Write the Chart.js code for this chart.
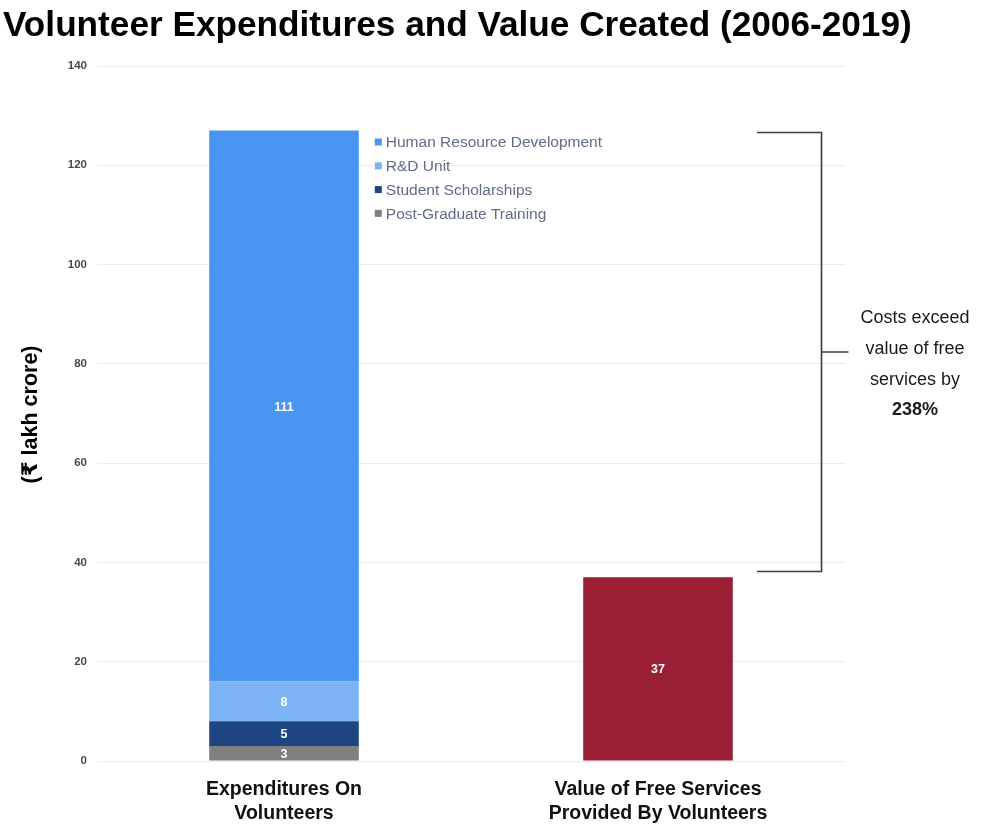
<!DOCTYPE html>
<html>
<head>
<meta charset="utf-8">
<title>Volunteer Expenditures and Value Created (2006-2019)</title>
<script src="https://cdn.jsdelivr.net/npm/chart.js@4/dist/chart.umd.min.js"></script>
<style>
  html, body { margin: 0; padding: 0; background: #ffffff; }
  #wrap { width: 997px; height: 825px; }
</style>
</head>
<body>
<div id="wrap"><canvas id="chart" width="997" height="825"></canvas></div>
<script>
// Categories on the x axis (each label split over two lines)
const categories = [
  ['Expenditures On', 'Volunteers'],
  ['Value of Free Services', 'Provided By Volunteers']
];

// Expenditure components (₹ lakh crore), stacked bottom to top
const postGraduateTraining = [3, null];
const studentScholarships = [5, null];
const rdUnit = [8, null];
const humanResourceDevelopment = [111, null];

// Value of free services provided by volunteers (₹ lakh crore)
const freeServicesValue = [null, 37];

// Y axis ticks
const yTicks = [0, 20, 40, 60, 80, 100, 120, 140];

const chartTitle = 'Volunteer Expenditures and Value Created (2006-2019)';
const yAxisTitle = '(₹ lakh crore)';
const noteLines = ['Costs exceed', 'value of free', 'services by'];
const notePercent = '238%';

const FONT = '"Liberation Sans", Arial, "DejaVu Sans", sans-serif';

const datasets = [
  { label: 'Post-Graduate Training', data: postGraduateTraining, backgroundColor: '#7f7f7f', legend: true },
  { label: 'Student Scholarships', data: studentScholarships, backgroundColor: '#1d4580', legend: true },
  { label: 'R&D Unit', data: rdUnit, backgroundColor: '#7cb4f6', legend: true },
  { label: 'Human Resource Development', data: humanResourceDevelopment, backgroundColor: '#4a95f1', legend: true },
  { label: 'Value of Free Services', data: freeServicesValue, backgroundColor: '#9a1f35', legend: false }
];

// Draws the title, axis title, in-bar values, the legend and the bracket note
const overlay = {
  id: 'overlay',
  afterDraw(chart) {
    const ctx = chart.ctx;
    const area = chart.chartArea;
    const y = chart.scales.y;

    ctx.save();

    // Title
    ctx.fillStyle = '#000000';
    ctx.font = 'bold 35.2px ' + FONT;
    ctx.textAlign = 'left';
    ctx.textBaseline = 'alphabetic';
    ctx.fillText(chartTitle, 3, 36);

    // Y axis title, rotated
    ctx.save();
    ctx.translate(31, (area.top + area.bottom) / 2 + 1);
    ctx.rotate(-Math.PI / 2);
    ctx.font = 'bold 21.5px ' + FONT;
    ctx.textAlign = 'center';
    ctx.textBaseline = 'middle';
    ctx.fillStyle = '#000000';
    ctx.fillText(yAxisTitle, 0, 0);
    ctx.restore();

    // Values inside the bar segments
    ctx.font = 'bold 12.5px ' + FONT;
    ctx.fillStyle = '#ffffff';
    ctx.textAlign = 'center';
    ctx.textBaseline = 'middle';
    chart.data.datasets.forEach((ds, di) => {
      const meta = chart.getDatasetMeta(di);
      meta.data.forEach((bar, i) => {
        const v = ds.data[i];
        if (v === null || v === undefined) return;
        const mid = (bar.y + bar.base) / 2;
        ctx.fillText(String(v), bar.x, mid + 1);
      });
    });

    // Legend, listed top to bottom in the reverse of stacking order
    const legendItems = chart.data.datasets.filter(d => d.legend).slice().reverse();
    const firstBar = chart.getDatasetMeta(0).data[0];
    const lx = firstBar.x + firstBar.width / 2 + 16;
    let ly = 142;
    ctx.font = '15.5px ' + FONT;
    ctx.textAlign = 'left';
    legendItems.forEach(item => {
      ctx.fillStyle = item.backgroundColor;
      ctx.fillRect(lx, ly - 3.5, 7, 7);
      ctx.fillStyle = '#616b8a';
      ctx.fillText(item.label, lx + 11, ly + 1);
      ly += 23.8;
    });

    // Bracket comparing the two bar heights
    const total = postGraduateTraining[0] + studentScholarships[0] + rdUnit[0] + humanResourceDevelopment[0];
    const topY = Math.round(y.getPixelForValue(total)) + 1.5;
    const botY = Math.round(y.getPixelForValue(freeServicesValue[1])) - 5.5;
    const bx0 = 757;
    const bx1 = 821.5;
    const midY = (topY + botY) / 2;
    ctx.strokeStyle = '#3c3c3c';
    ctx.lineWidth = 1.6;
    ctx.beginPath();
    ctx.moveTo(bx0, topY);
    ctx.lineTo(bx1, topY);
    ctx.lineTo(bx1, botY);
    ctx.lineTo(bx0, botY);
    ctx.moveTo(bx1, midY);
    ctx.lineTo(bx1 + 27, midY);
    ctx.stroke();

    // Bracket note
    ctx.fillStyle = '#1a1a1a';
    ctx.textAlign = 'center';
    ctx.textBaseline = 'middle';
    ctx.font = '18px ' + FONT;
    const nx = 915;
    let ny = 318;
    noteLines.forEach(line => {
      ctx.fillText(line, nx, ny);
      ny += 31;
    });
    ctx.font = 'bold 18px ' + FONT;
    ctx.fillText(notePercent, nx, ny - 1);

    ctx.restore();
  }
};

new Chart(document.getElementById('chart'), {
  type: 'bar',
  data: { labels: categories, datasets: datasets },
  options: {
    responsive: false,
    animation: false,
    events: [],
    categoryPercentage: 0.8,
    barPercentage: 0.5,
    layout: { padding: { top: 66, right: 152, left: 0, bottom: 0 } },
    plugins: {
      legend: { display: false },
      title: { display: false },
      tooltip: { enabled: false }
    },
    scales: {
      x: {
        stacked: true,
        grid: { display: false, drawTicks: false },
        border: { display: false },
        ticks: {
          padding: 17,
          color: '#111111',
          font: { family: FONT, size: 19.5, weight: 'bold', lineHeight: 1.23 }
        },
        afterFit(scale) { scale.height = 64; }
      },
      y: {
        stacked: true,
        min: 0,
        max: 140,
        afterBuildTicks(scale) { scale.ticks = yTicks.map(v => ({ value: v })); },
        grid: { color: '#ebebeb', lineWidth: 1, drawTicks: false },
        border: { display: false },
        ticks: {
          padding: 10,
          color: '#4a4a4a',
          font: { family: FONT, size: 11.5, weight: 'bold' }
        },
        afterFit(scale) { scale.width = 97; }
      }
    }
  },
  plugins: [overlay]
});
</script>
</body>
</html>
